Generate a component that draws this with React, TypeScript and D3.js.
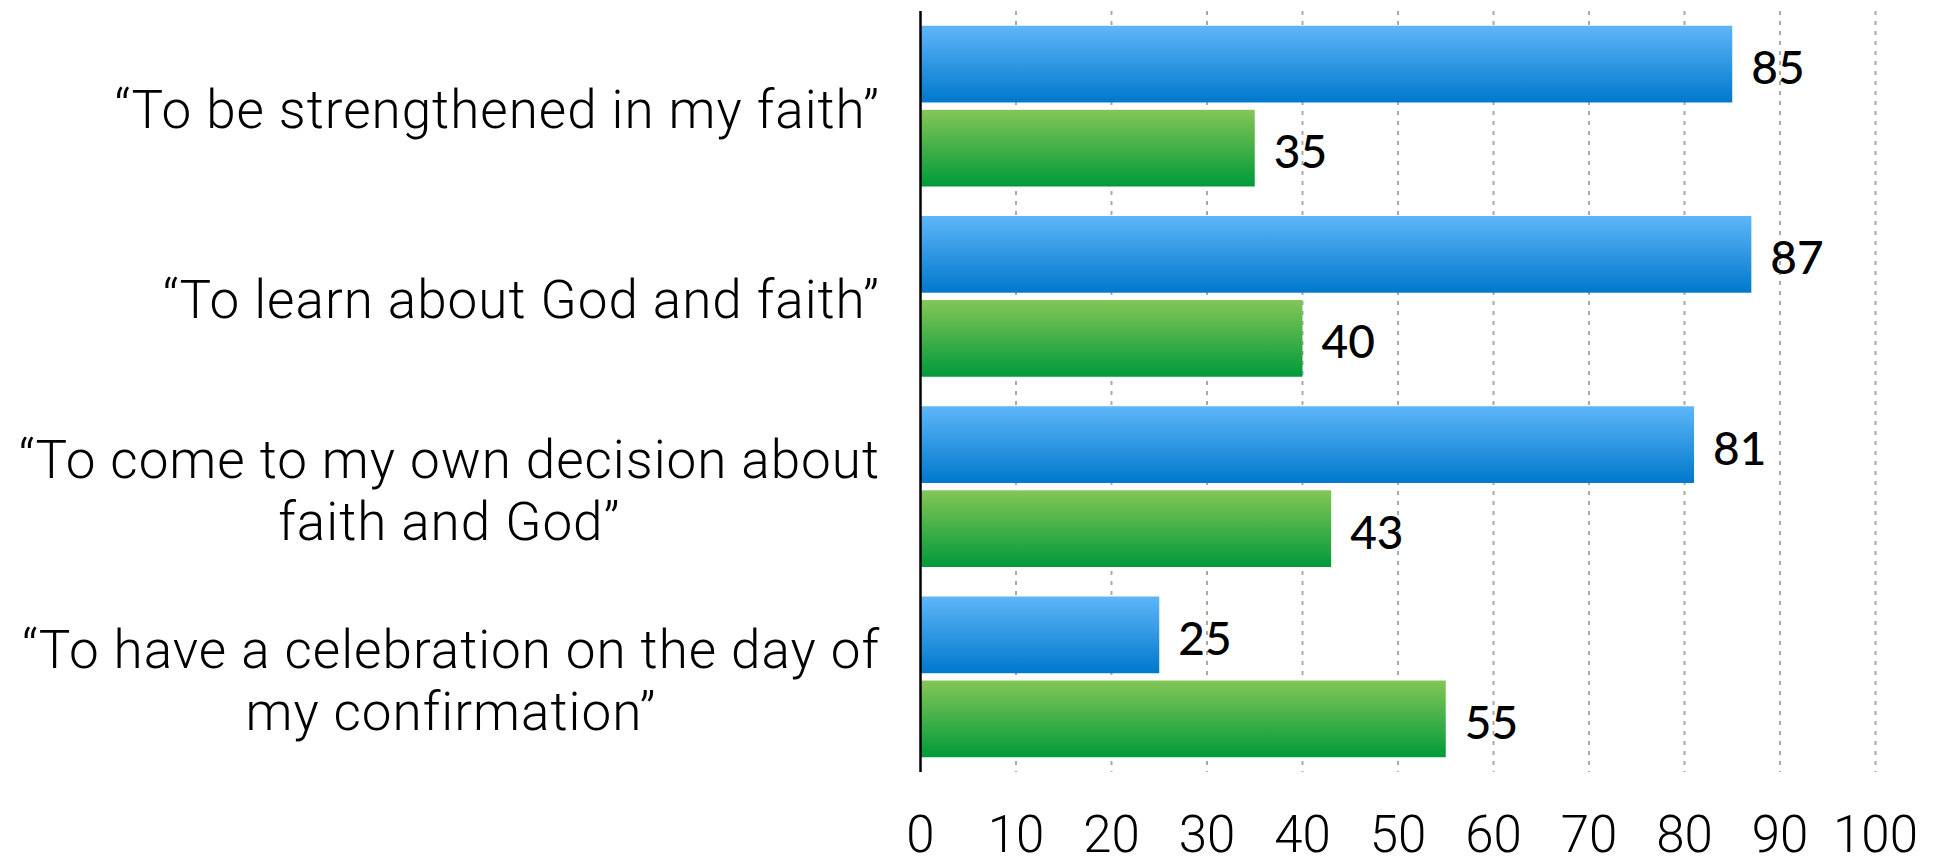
import React, { useEffect, useRef } from "react";
import * as d3 from "d3";

const categoryLabels: string[][] = [
  ["“To be strengthened in my faith”"],
  ["“To learn about God and faith”"],
  ["“To come to my own decision about", "faith and God”"],
  ["“To have a celebration on the day of", "my confirmation”"],
];
const seriesBlue: number[] = [85, 87, 81, 25];
const seriesGreen: number[] = [35, 40, 43, 55];
const tickValues: number[] = [0, 10, 20, 30, 40, 50, 60, 70, 80, 90, 100];

const W = 1943;
const H = 857;
const X0 = 920.5;
const X1 = 1875.5;
const Y0 = 11;
const Y1 = 772;
const LABEL_RIGHT = 880;
const CAT_FONT = 53;
const LINE_H = 62;

export default function App() {
  const ref = useRef<SVGSVGElement>(null);

  useEffect(() => {
    const svg = d3.select(ref.current!);
    svg.selectAll("*").remove();

    const defs = svg.append("defs");
    const gb = defs.append("linearGradient").attr("id", "gBlue").attr("x1", 0).attr("y1", 0).attr("x2", 0).attr("y2", 1);
    gb.append("stop").attr("offset", "0%").attr("stop-color", "#5EB6F8");
    gb.append("stop").attr("offset", "100%").attr("stop-color", "#0078CC");
    const gg = defs.append("linearGradient").attr("id", "gGreen").attr("x1", 0).attr("y1", 0).attr("x2", 0).attr("y2", 1);
    gg.append("stop").attr("offset", "0%").attr("stop-color", "#84C656");
    gg.append("stop").attr("offset", "100%").attr("stop-color", "#009A3A");

    const x = d3.scaleLinear().domain([0, 100]).range([X0, X1]);
    const idx = categoryLabels.map((_, i) => String(i));
    const y = d3.scaleBand().domain(idx).range([Y0, Y1]).paddingInner(0.155).paddingOuter(0.0775);
    const ySub = d3.scaleBand().domain(["blue", "green"]).range([0, y.bandwidth()]).paddingInner(0.087);

    // grid
    svg.append("g")
      .selectAll("line")
      .data(tickValues.filter((t) => t > 0))
      .join("line")
      .attr("x1", (d) => x(d))
      .attr("x2", (d) => x(d))
      .attr("y1", Y0)
      .attr("y2", Y1)
      .attr("stroke", "#A9A9A9")
      .attr("stroke-width", 2)
      .attr("stroke-dasharray", "4 6");

    const series = [
      { key: "blue", values: seriesBlue, fill: "url(#gBlue)" },
      { key: "green", values: seriesGreen, fill: "url(#gGreen)" },
    ];

    series.forEach((s) => {
      const g = svg.append("g");
      g.selectAll("rect")
        .data(s.values)
        .join("rect")
        .attr("x", x(0))
        .attr("y", (_, i) => (y(String(i)) as number) + (ySub(s.key) as number))
        .attr("width", (d) => x(d) - x(0))
        .attr("height", ySub.bandwidth())
        .attr("fill", s.fill);
      g.selectAll("text")
        .data(s.values)
        .join("text")
        .attr("x", (d) => x(d) + 19)
        .attr("y", (_, i) => (y(String(i)) as number) + (ySub(s.key) as number) + ySub.bandwidth() / 2 + 20)
        .attr("font-family", "Lato, 'Open Sans', sans-serif")
        .attr("font-weight", 500)
        .attr("font-size", 46)
        .attr("fill", "#000")
        .text((d) => String(d));
    });

    // axis line
    svg.append("line")
      .attr("x1", x(0))
      .attr("x2", x(0))
      .attr("y1", Y0)
      .attr("y2", Y1)
      .attr("stroke", "#000")
      .attr("stroke-width", 2.5);

    // tick labels
    svg.append("g")
      .selectAll("text")
      .data(tickValues)
      .join("text")
      .attr("x", (d) => x(d))
      .attr("y", 852)
      .attr("text-anchor", "middle")
      .attr("font-family", "Roboto, 'Liberation Sans', sans-serif")
      .attr("font-weight", 300)
      .attr("font-size", 51)
      .attr("fill", "#000")
      .text((d) => String(d));

    // category labels
    const catG = svg.append("g");
    categoryLabels.forEach((lines, i) => {
      const center = (y(String(i)) as number) + y.bandwidth() / 2;
      const n = lines.length;
      const capH = CAT_FONT * 0.72;
      const firstBaseline = center + capH / 2 + 3 - ((n - 1) * LINE_H) / 2;
      const texts = lines.map((ln, j) =>
        catG.append("text")
          .attr("y", firstBaseline + j * LINE_H)
          .attr("font-family", "Roboto, 'Liberation Sans', sans-serif")
          .attr("font-weight", 300)
          .attr("font-size", CAT_FONT)
          .attr("letter-spacing", 1)
          .attr("fill", "#000")
          .text(ln)
      );
      const widths = texts.map((t) => (t.node() as SVGTextElement).getComputedTextLength());
      const maxW = Math.max(...widths);
      const cx = LABEL_RIGHT - maxW / 2;
      texts.forEach((t) => t.attr("x", cx).attr("text-anchor", "middle"));
    });
  }, []);

  return (
    <svg
      ref={ref}
      width={W}
      height={H}
      style={{ position: "absolute", left: 0, top: 0, background: "#fff" }}
    />
  );
}
